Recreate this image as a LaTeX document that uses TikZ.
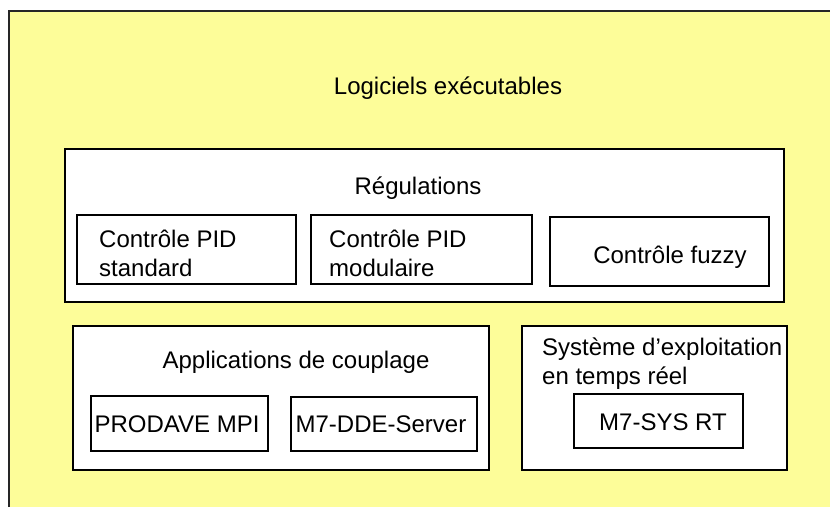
\documentclass[tikz,border=0pt]{standalone}
\usepackage{fontspec}
\setmainfont{Liberation Sans}
\definecolor{bgyellow}{RGB}{253,253,153}
\begin{document}
\begin{tikzpicture}[x=1pt,y=-1pt,
  box/.style={draw=black,fill=white,line width=1.4pt,inner sep=0pt,minimum width=#1},
  lbl/.style={inner sep=0pt,font=\fontsize{24}{29}\selectfont},
  lbll/.style={lbl,align=left,anchor=west}]
\useasboundingbox (0,0) rectangle (830,507);
\fill[white] (0,0) rectangle (830,507);
\fill[bgyellow] (9,11) rectangle (830,507);
\draw[line width=2.2pt,black!85] (9,507) -- (9,11) -- (830,11);
\node[lbl] (title) at (448,88) {Logiciels exécutables};
% Régulations
\node[box=719pt,minimum height=153pt] (reg) at (424.5,225.5) {};
\node[lbl] (regt) at (418,188) {Régulations};
\node[box=219pt,minimum height=69pt] (pid1) at (186.5,249.5) {};
\node[box=221pt,minimum height=69pt] (pid2) at (421.5,249.5) {};
\node[box=219pt,minimum height=69pt] (fuzzy) at (659.5,251.5) {};
\node[lbll] (pid1t) at (99,253) {Contrôle PID\\standard};
\node[lbll] (pid2t) at (329,253) {Contrôle PID\\modulaire};
\node[lbl] (fuzzyt) at (670,257) {Contrôle fuzzy};
% Applications
\node[box=416pt,minimum height=144pt] (app) at (281,398) {};
\node[lbl] (appt) at (296,362) {Applications de couplage};
\node[box=177pt,minimum height=55pt] (prod) at (179.5,423.5) {};
\node[box=186pt,minimum height=54pt] (dde) at (384,424) {};
\node[lbl] (prodt) at (177,424) {PRODAVE MPI};
\node[lbl] (ddet) at (381,424) {M7-DDE-Server};
% Système
\node[box=265pt,minimum height=144pt] (sys) at (654.5,398) {};
\node[lbll] (syst) at (542,364) {Système d'exploitation\\en temps réel};
\node[box=169pt,minimum height=54pt] (rt) at (658.5,421) {};
\node[lbl] (rtt) at (663,422) {M7-SYS RT};
\end{tikzpicture}
\end{document}
